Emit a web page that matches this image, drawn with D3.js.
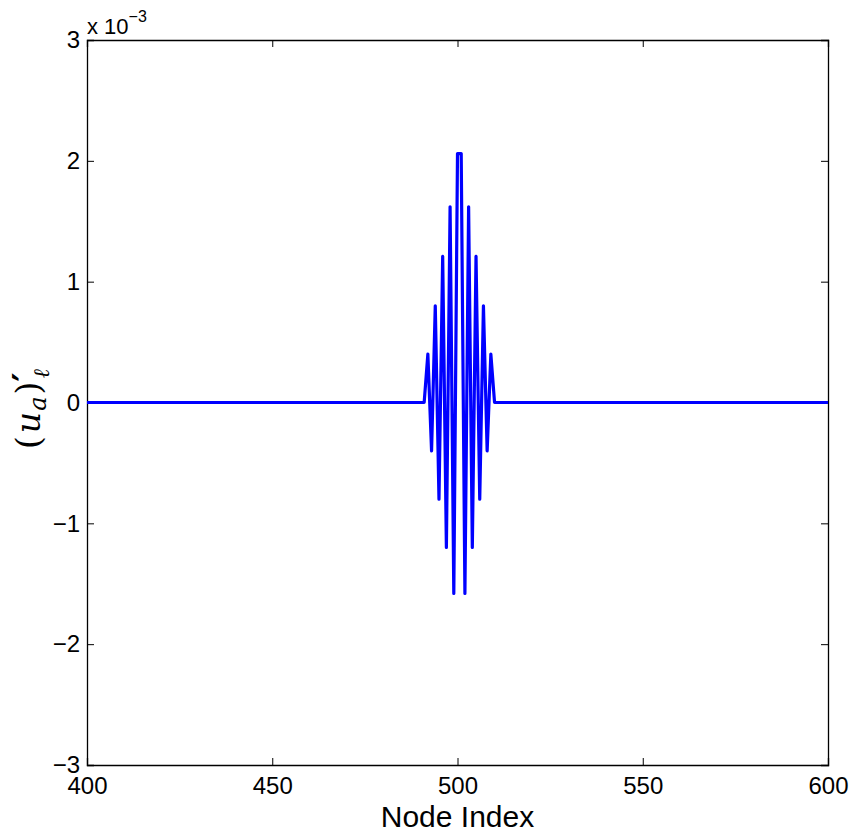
<!DOCTYPE html>
<html>
<head>
<meta charset="utf-8">
<script src="https://cdn.jsdelivr.net/npm/d3@7"></script>
<style>
    body { margin: 0; background: #fff; }
    svg { display: block; }
    .tick text { font-family: "Liberation Sans", Arial, sans-serif; font-size: 24px; fill: #000; }
</style>
</head>
<body>
<svg id="chart" width="853" height="836"></svg>
<script>
//////////////////// DATA ////////////////////
// node indices where the curve changes (zero everywhere else)
const nodeIndex = [400, 491, 492, 493, 494, 495, 496, 497, 498, 499, 500, 501, 502, 503, 504, 505, 506, 507, 508, 509, 510, 600];
// (u_a)'_l values, in units of 1e-3
const nodeValue = [0, 0, 0.40, -0.40, 0.80, -0.80, 1.21, -1.20, 1.62, -1.58, 2.06, 2.06, -1.58, 1.62, -1.20, 1.21, -0.80, 0.80, -0.40, 0.40, 0, 0];

const xTicks = [400, 450, 500, 550, 600];
const yTicks = [-3, -2, -1, 0, 1, 2, 3];
const yTickLabels = ["\u22123", "\u22122", "\u22121", "0", "1", "2", "3"];

//////////////////// SIZES ////////////////////
const sizes = { left: 87, top: 40, width: 741, height: 725 };

const svg = d3.select("#chart");
const g = svg.append("g").attr("transform", `translate(${sizes.left},${sizes.top})`);

//////////////////// SCALES ////////////////////
const scaleX = d3.scaleLinear().domain([400, 600]).range([0, sizes.width]);
const scaleY = d3.scaleLinear().domain([-3, 3]).range([sizes.height, 0]);

//////////////////// AXES ////////////////////
// bottom
g.append("g")
    .attr("transform", `translate(0,${sizes.height})`)
    .call(d3.axisBottom(scaleX).tickValues(xTicks).tickSize(-7).tickPadding(12).tickFormat(d3.format("d")));
// top (ticks only)
g.append("g")
    .call(d3.axisTop(scaleX).tickValues(xTicks).tickSize(-7).tickFormat(""));
// left
g.append("g")
    .call(d3.axisLeft(scaleY).tickValues(yTicks).tickSize(-7).tickPadding(7)
        .tickFormat((d, i) => yTickLabels[i]));
// right (ticks only)
g.append("g")
    .attr("transform", `translate(${sizes.width},0)`)
    .call(d3.axisRight(scaleY).tickValues(yTicks).tickSize(-7).tickFormat(""));

g.selectAll(".domain").attr("stroke", "#000").attr("stroke-width", 1.3);
g.selectAll(".tick line").attr("stroke", "#000").attr("stroke-width", 1);

//////////////////// LINE ////////////////////
const points = nodeIndex.map((n, i) => ({ n: n, v: nodeValue[i] }));
const line = d3.line().x(d => scaleX(d.n)).y(d => scaleY(d.v));

g.append("path")
    .datum(points)
    .attr("d", line)
    .attr("fill", "none")
    .attr("stroke", "#0000ff")
    .attr("stroke-width", 3.2)
    .attr("stroke-linejoin", "round");

//////////////////// LABELS ////////////////////
// exponent label
const expo = svg.append("text")
    .attr("x", 87)
    .attr("y", 34)
    .attr("font-family", "Liberation Sans, Arial, sans-serif")
    .attr("font-size", 22);
expo.append("tspan").text("x 10");
expo.append("tspan").attr("font-size", 16).attr("dy", -12).text("\u22123");

// x label
svg.append("text")
    .attr("x", sizes.left + sizes.width / 2)
    .attr("y", 827)
    .attr("text-anchor", "middle")
    .attr("font-family", "Liberation Sans, Arial, sans-serif")
    .attr("font-size", 30)
    .text("Node Index");

// y label (u_a)'_l
const yl = svg.append("text")
    .attr("transform", "translate(40,449) rotate(-90)")
    .attr("font-family", "DejaVu Serif, Liberation Serif, serif")
    .attr("font-size", 33);
yl.append("tspan").text("(");
yl.append("tspan").attr("font-style", "italic").attr("dx", 3).text("u");
yl.append("tspan").attr("font-style", "italic").attr("font-size", 24).attr("dx", 1).attr("dy", 6).text("a");
yl.append("tspan").attr("dx", 2).attr("dy", -6).text(")");
yl.append("tspan").attr("font-size", 36).attr("font-weight", "bold").attr("dx", 0).attr("dy", -2).text("\u2032");
yl.append("tspan").attr("font-style", "italic").attr("font-size", 22).attr("dx", -6).attr("dy", 11).text("\u2113");
</script>
</body>
</html>
